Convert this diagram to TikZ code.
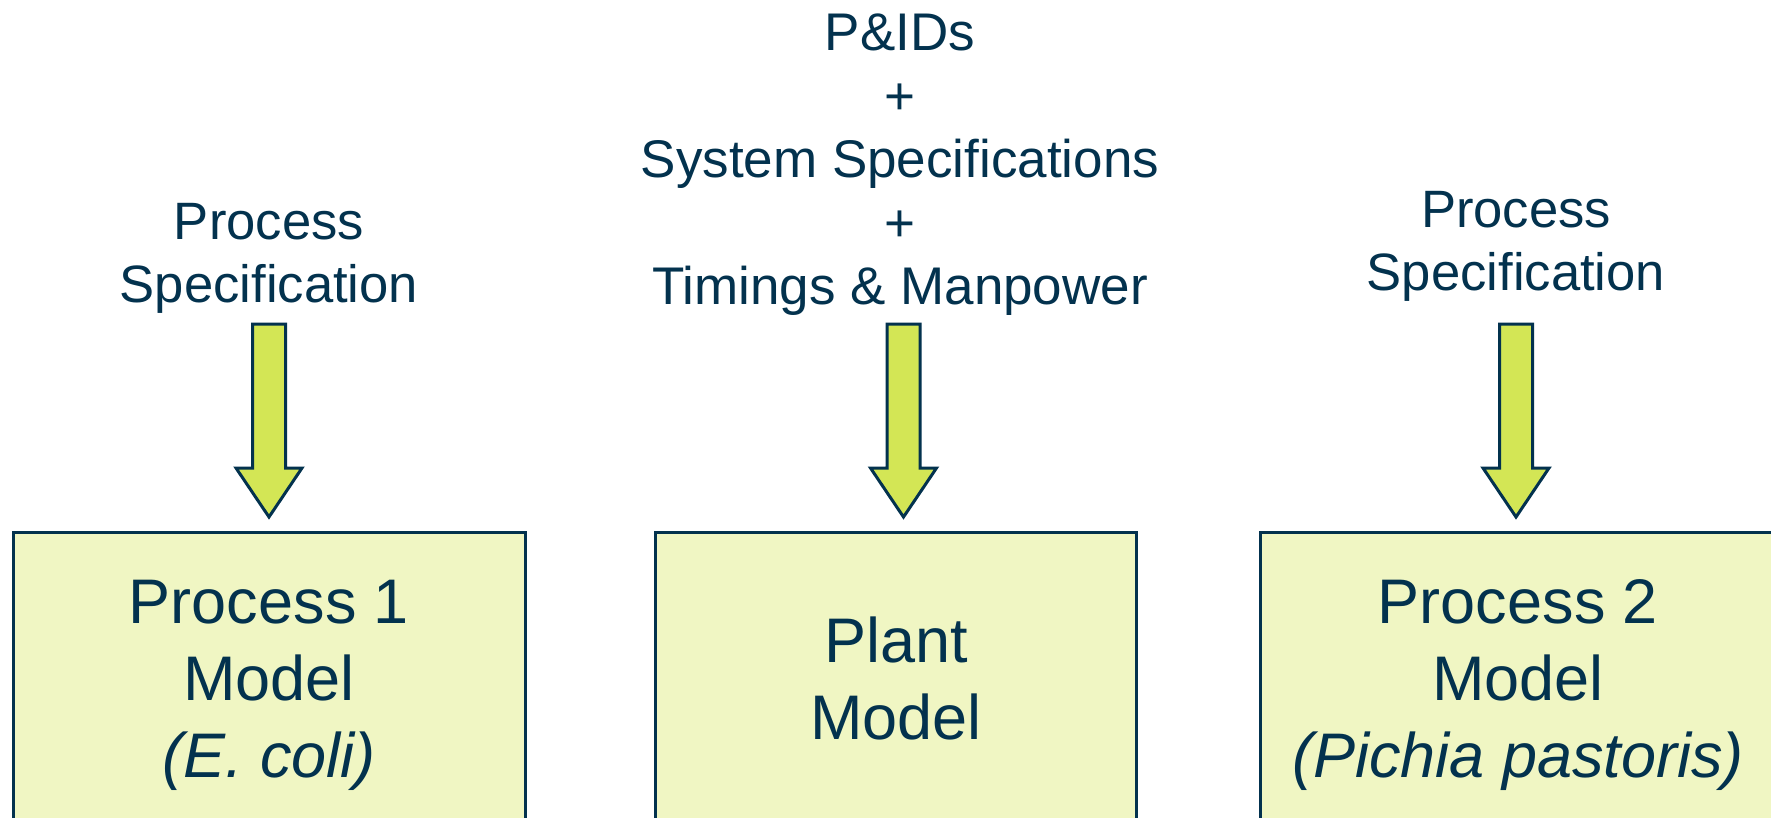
\documentclass[tikz,border=0pt]{standalone}
\usepackage{fontspec}
\setmainfont{Liberation Sans}
\usetikzlibrary{calc}
\definecolor{navy}{HTML}{03324E}
\definecolor{boxfill}{HTML}{F0F6C3}
\definecolor{arrfill}{HTML}{D3E655}
\tikzset{
  modelbox/.style={draw=navy, line width=3pt, fill=boxfill},
  blockarr/.style={draw=navy, line width=3pt, fill=arrfill, line join=miter},
  boxtxt/.style={anchor=base, text=navy, inner sep=0pt, font=\fontsize{63}{77}\selectfont},
  lbltxt/.style={anchor=base, text=navy, inner sep=0pt, font=\fontsize{52.6}{63}\selectfont},
  toptxt/.style={anchor=base, text=navy, inner sep=0pt, font=\fontsize{53}{63}\selectfont},
}
\begin{document}
\begin{tikzpicture}[x=1pt,y=-1pt]
\useasboundingbox (0,0) rectangle (1771,817);
\fill[white] (0,0) rectangle (1771,817);
\clip (0,0) rectangle (1771,817);

% boxes
\draw[modelbox] (13,532) rectangle (525,840);
\coordinate (b1) at (269,532);
\draw[modelbox] (655,532) rectangle (1136,840);
\coordinate (b2) at (895.5,532);
\draw[modelbox] (1260,532) rectangle (1790,840);
\coordinate (b3) at (1518,532);

% box texts
\node[boxtxt] (p1a) at (269,623) {Process 1};
\node[boxtxt] (p1b) at (269,700) {Model};
\node[boxtxt] (p1c) at (269,777) {\itshape (E. coli)};

\node[boxtxt] (pla) at (896,662) {Plant};
\node[boxtxt] (plb) at (896,739) {Model};

\node[boxtxt] (p2a) at (1518,623) {Process 2};
\node[boxtxt] (p2b) at (1518,700) {Model};
\node[boxtxt] (p2c) at (1518,777) {\itshape (Pichia pastoris)};

% labels
\node[lbltxt] (l1a) at (269,239) {Process};
\node[lbltxt] (l1b) at (269,302) {Specification};

\node[lbltxt] (l3a) at (1516,227) {Process};
\node[lbltxt] (l3b) at (1516,290) {Specification};

\node[toptxt] (ta) at (900,50.5) {P\&IDs};
\node[toptxt] (tb) at (900,114) {+};
\node[toptxt] (tc) at (900,177.5) {System Specifications};
\node[toptxt] (td) at (900,241) {+};
\node[toptxt] (te) at (900,304.5) {Timings \& Manpower};

% arrows
\coordinate (t1) at (269,324);   \coordinate (h1) at (269,517);
\coordinate (t2) at (903.5,324); \coordinate (h2) at (903.5,517);
\coordinate (t3) at (1516,324);  \coordinate (h3) at (1516,517);
\foreach \t/\h in {t1/h1,t2/h2,t3/h3}{
  \draw[blockarr] ($(\t)+(-16.5,0)$) -- ($(\t)+(16.5,0)$) -- ($(\t)+(16.5,144)$)
    -- ($(\t)+(33,144)$) -- (\h) -- ($(\t)+(-33,144)$) -- ($(\t)+(-16.5,144)$) -- cycle;
}
\end{tikzpicture}
\end{document}
